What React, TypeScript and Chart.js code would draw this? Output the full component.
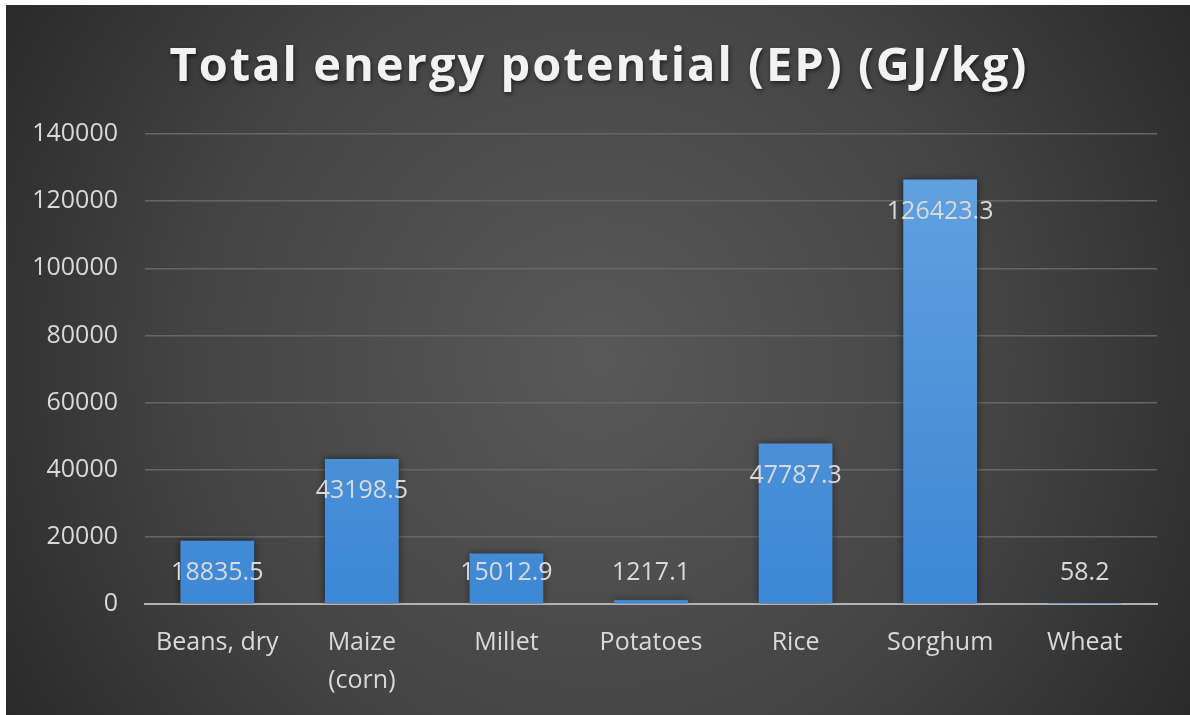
import React, { useEffect, useRef } from "react";
import { Chart, registerables } from "chart.js";

Chart.register(...registerables);

const TITLE = "Total energy potential (EP) (GJ/kg)";
const CATEGORIES: (string | string[])[] = [
  "Beans, dry",
  ["Maize", "(corn)"],
  "Millet",
  "Potatoes",
  "Rice",
  "Sorghum",
  "Wheat",
];
const VALUES = [18835.5, 43198.5, 15012.9, 1217.1, 47787.3, 126423.3, 58.2];
const LABELS = ["18835.5", "43198.5", "15012.9", "1217.1", "47787.3", "126423.3", "58.2"];
const Y_MAX = 140000;
const Y_STEP = 20000;

const FONT = "'Open Sans', 'DejaVu Sans', sans-serif";

const bgPlugin = {
  id: "bgPlugin",
  beforeDraw(chart: any) {
    const { ctx, width, height } = chart;
    ctx.save();
    const g = ctx.createRadialGradient(width * 0.5, height * 0.5, 0, width * 0.5, height * 0.5, width * 0.62);
    g.addColorStop(0, "#595959");
    g.addColorStop(0.55, "#444444");
    g.addColorStop(1, "#262626");
    ctx.fillStyle = g;
    ctx.fillRect(0, 0, width, height);
    ctx.restore();
  },
};

const titlePlugin = {
  id: "titlePlugin",
  afterDraw(chart: any) {
    const { ctx, width } = chart;
    ctx.save();
    ctx.font = `bold 47px ${FONT}`;
    (ctx as any).letterSpacing = "2px";
    ctx.textAlign = "center";
    ctx.textBaseline = "alphabetic";
    ctx.shadowColor = "rgba(0,0,0,0.6)";
    ctx.shadowBlur = 4;
    ctx.shadowOffsetX = 1;
    ctx.shadowOffsetY = 2;
    ctx.fillStyle = "#f2f2f2";
    ctx.fillText(TITLE, width / 2 + 1, 76);
    ctx.restore();
  },
};

const shadowPlugin = {
  id: "shadowPlugin",
  beforeDatasetsDraw(chart: any) {
    const ctx = chart.ctx;
    ctx.save();
    ctx.shadowColor = "rgba(0,0,0,0.55)";
    ctx.shadowBlur = 8;
    ctx.shadowOffsetX = 0;
    ctx.shadowOffsetY = 0;
  },
  afterDatasetsDraw(chart: any) {
    chart.ctx.restore();
  },
};

const labelPlugin = {
  id: "labelPlugin",
  afterDatasetsDraw(chart: any) {
    const { ctx } = chart;
    const meta = chart.getDatasetMeta(0);
    const base = chart.scales.y.getPixelForValue(0);
    ctx.save();
    ctx.font = `25px ${FONT}`;
    ctx.fillStyle = "#d9d9d9";
    ctx.textAlign = "center";
    ctx.textBaseline = "middle";
    meta.data.forEach((el: any, i: number) => {
      const y = Math.min(el.y + 32, base - 31);
      ctx.fillText(LABELS[i], el.x, y);
    });
    ctx.restore();
  },
};

export default function App() {
  const ref = useRef<HTMLCanvasElement | null>(null);

  useEffect(() => {
    document.body.style.margin = "0";
    const canvas = ref.current!;
    const ctx = canvas.getContext("2d")!;
    const grad = ctx.createLinearGradient(0, 129, 0, 599);
    grad.addColorStop(0, "#64a3e0");
    grad.addColorStop(1, "#3d87d4");

    const chart = new Chart(canvas, {
      type: "bar",
      data: {
        labels: CATEGORIES,
        datasets: [
          {
            data: VALUES,
            backgroundColor: grad,
            borderWidth: 0,
            categoryPercentage: 1,
            barPercentage: 0.51,
          },
        ],
      },
      plugins: [bgPlugin, shadowPlugin, labelPlugin, titlePlugin],
      options: {
        responsive: false,
        animation: false,
        devicePixelRatio: 1,
        layout: { padding: { left: 0, right: 33, top: 129, bottom: 0 } },
        plugins: {
          legend: { display: false },
          title: { display: false },
          tooltip: { enabled: false },
        },
        scales: {
          x: {
            grid: { display: false, drawTicks: false },
            border: { display: true, color: "#b3b3b3", width: 2 },
            ticks: {
              color: "#d9d9d9",
              font: { family: FONT, size: 25, lineHeight: 1.55 },
              padding: 19,
              maxRotation: 0,
              autoSkip: false,
            },
            afterFit(scale: any) {
              scale.height = 111;
            },
          },
          y: {
            min: 0,
            max: Y_MAX,
            ticks: {
              stepSize: Y_STEP,
              color: "#d9d9d9",
              font: { family: FONT, size: 25 },
              padding: 27,
              callback: (v: any) => String(v),
            },
            grid: { color: "#666666", lineWidth: 1.5, drawTicks: false },
            border: { display: false },
            afterFit(scale: any) {
              scale.width = 139;
            },
          },
        },
      },
    });
    return () => chart.destroy();
  }, []);

  return (
    <div style={{ width: 1190, height: 715, background: "#ffffff", paddingLeft: 6, paddingTop: 5, boxSizing: "border-box" }}>
      <canvas ref={ref} width={1184} height={710} style={{ display: "block", width: 1184, height: 710 }} />
    </div>
  );
}
